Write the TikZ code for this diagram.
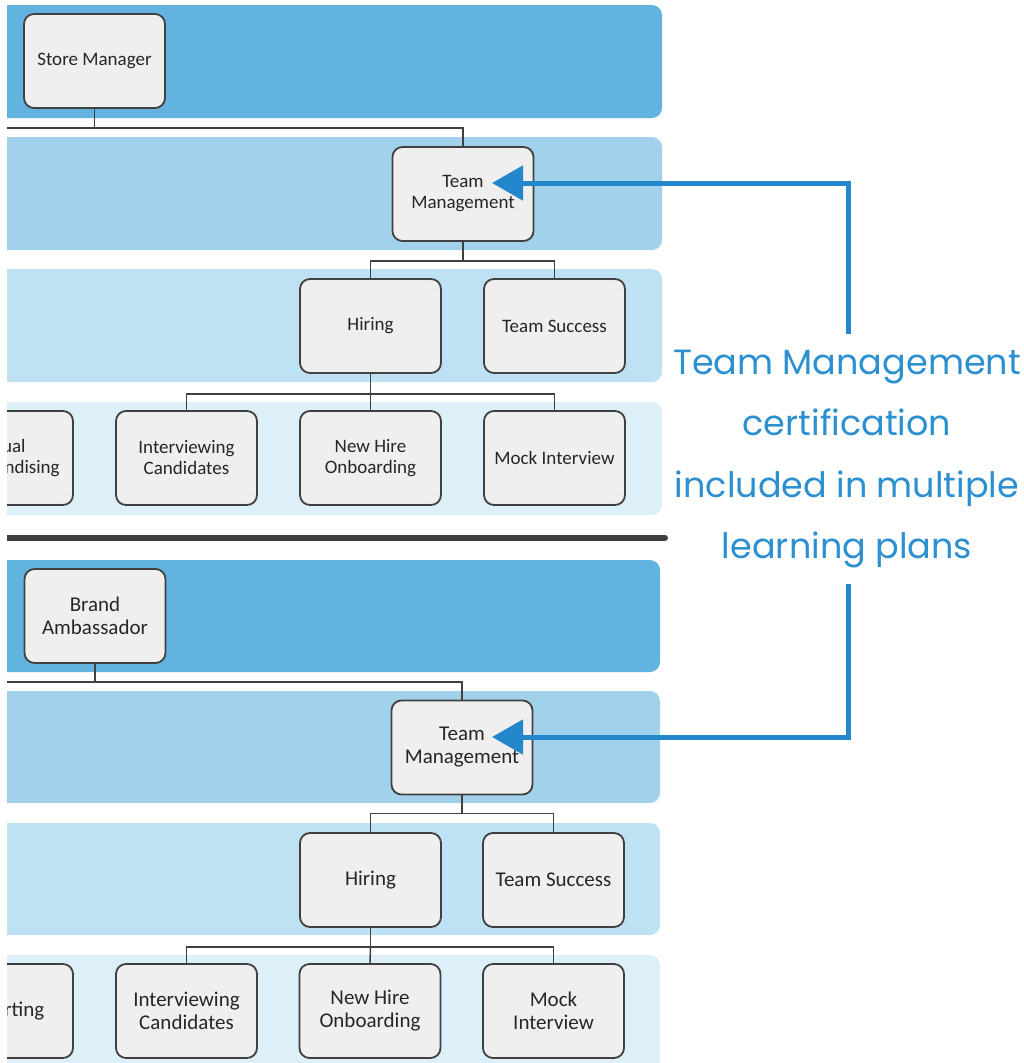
\documentclass[tikz,border=0pt]{standalone}
\usepackage{fontspec}
\setmainfont{Carlito}
\newfontfamily\notefont{Poppins}
\usepackage{tikz}
\usetikzlibrary{arrows.meta,positioning}

\definecolor{bandA}{HTML}{62B3E0}
\definecolor{bandB}{HTML}{A2D2EB}
\definecolor{bandC}{HTML}{BEE1F4}
\definecolor{bandD}{HTML}{DDEFF9}
\definecolor{boxfill}{HTML}{EFEFEF}
\definecolor{lineg}{HTML}{404040}
\definecolor{callblue}{HTML}{2388CB}
\definecolor{noteblue}{HTML}{2B8FD0}

\begin{document}
\begin{tikzpicture}[x=1pt, y=-1pt,
    plan/.style = {shape=rectangle, draw=lineg, line width=1.8pt, fill=boxfill,
                   rounded corners=10pt, minimum width=141pt, minimum height=94pt,
                   align=center, inner sep=2pt, text=black!85},
    small/.style = {font=\fontsize{19}{21}\selectfont},
    big/.style = {font=\fontsize{21}{23}\selectfont},
    link/.style = {draw=lineg, line width=1.5pt},
    band/.style = {rounded corners=10pt},
    callout/.style = {draw=callblue, line width=5pt, -{Triangle[length=31pt,width=34pt]}}]
  \useasboundingbox (0,0) rectangle (1024,1063);

  \begin{scope}
    \clip (7,0) rectangle (700,1063);
    % upper plan
    \fill[bandA, band] (-20,5) rectangle (662,118);
    \fill[bandB, band] (-20,137) rectangle (662,250);
    \fill[bandC, band] (-20,269) rectangle (662,382);
    \fill[bandD, band] (-20,402) rectangle (662,515);
    \node[plan, small] (sm)    at (94.5,61)  {Store Manager};
    \node[plan, small] (tm1)   at (463,194)  {Team\\Management};
    \node[plan, small] (hire1) at (370.5,326) {Hiring};
    \node[plan, small] (succ1) at (554.5,326) {Team Success};
    \node[plan, small] (vm1)   at (2.5,458)  {Visual\\Merchandising};
    \node[plan, small] (int1)  at (186.5,458) {Interviewing\\Candidates};
    \node[plan, small] (onb1)  at (370.5,458) {New Hire\\Onboarding};
    \node[plan, small] (mock1) at (554.5,458) {Mock Interview};
    \coordinate (j1) at (0,128);
    \draw[link] (sm.south) -- (sm.south |- j1);
    \draw[link] (j1) -| (tm1.north);
    \draw[link] (tm1.south) -- ++(0,19) coordinate (b1) -| (hire1.north);
    \draw[link] (b1) -| (succ1.north);
    \draw[link] (hire1.south) -- ++(0,20) coordinate (c1) -| (int1.north);
    \draw[link] (c1) -| (mock1.north);
    \draw[link] (c1) -- (onb1.north);

    \draw[lineg, line width=6pt, line cap=round] (0,538) -- (665,538);

    % lower plan
    \fill[bandA, band] (-20,560) rectangle (660,672);
    \fill[bandB, band] (-20,691) rectangle (660,803);
    \fill[bandC, band] (-20,823) rectangle (660,935);
    \fill[bandD, band] (-20,955) rectangle (660,1080);
    \node[plan, big] (ba)    at (95,616)    {Brand\\Ambassador};
    \node[plan, big] (tm2)   at (462,747.5) {Team\\Management};
    \node[plan, big] (hire2) at (370.5,880) {Hiring};
    \node[plan, big] (succ2) at (553.5,880) {Team Success};
    \node[plan, big] (rep2)  at (2.5,1011)  {Reporting};
    \node[plan, big] (int2)  at (186.5,1011) {Interviewing\\Candidates};
    \node[plan, big] (onb2)  at (370,1011)  {New Hire\\Onboarding};
    \node[plan, big] (mock2) at (553.5,1011) {Mock\\Interview};
    \coordinate (j2) at (0,682);
    \draw[link] (ba.south) -- (ba.south |- j2);
    \draw[link] (j2) -| (tm2.north);
    \draw[link] (tm2.south) -- ++(0,18) coordinate (b2) -| (hire2.north);
    \draw[link] (b2) -| (succ2.north);
    \draw[link] (hire2.south) -- ++(0,19) coordinate (c2) -| (int2.north);
    \draw[link] (c2) -| (mock2.north);
    \draw[link] (c2) -- (onb2.north);
  \end{scope}

  % callout
  \node[align=center, text=noteblue, inner xsep=0pt, inner ysep=16pt,
        font=\notefont\fontsize{35}{61.5}\selectfont] (note) at (847,459)
    {Team Management\\certification\\included in multiple\\learning plans};
  \coordinate (t1) at (492,183);
  \coordinate (t2) at (492,737);
  \draw[callout] (note.north -| 848,0) |- (t1);
  \draw[callout] (note.south -| 848,0) |- (t2);
\end{tikzpicture}
\end{document}
